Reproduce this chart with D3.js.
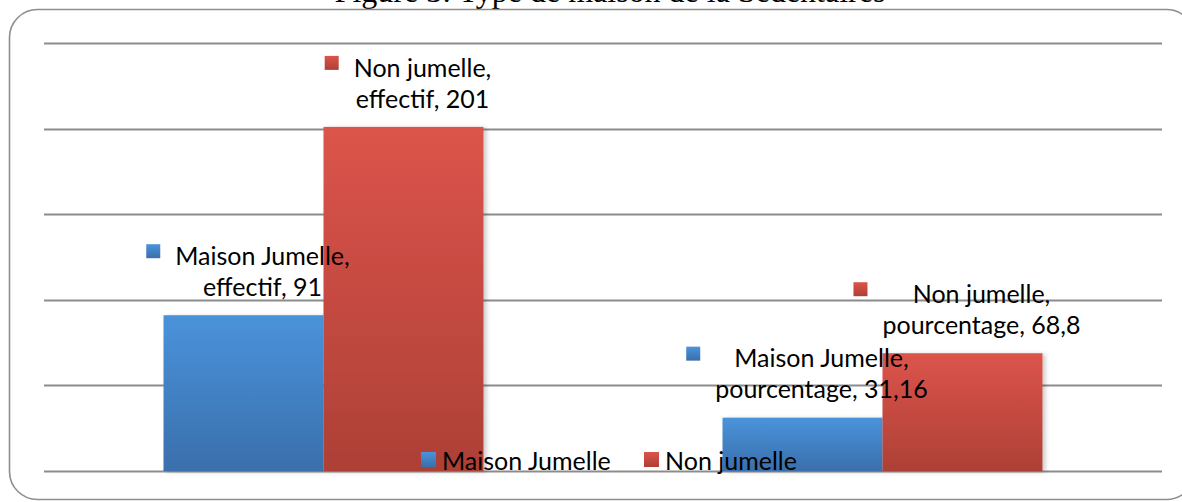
<!DOCTYPE html>
<html>
<head>
<meta charset="utf-8">
<script src="https://cdn.jsdelivr.net/npm/d3@7"></script>
<style>
  body { margin: 0; background: #fff; }
  svg { display: block; }
</style>
</head>
<body>
<div id="chart"></div>
<script>
// data
var categories = ["effectif", "pourcentage"];
var series = ["Maison Jumelle", "Non jumelle"];
var seriesLabel = ["Maison Jumelle", "Non jumelle"];
var maisonJumelle = [91, 31.16];
var nonJumelle = [201, 68.8];
var valueText = [["91", "31,16"], ["201", "68,8"]];
var yTicks = [0, 50, 100, 150, 200, 250];
var title = "Figure 3: Type de maison de la Sédentaires";

var width = 1182, height = 502;
var margin = {top: 43, right: 20, bottom: 31, left: 44};
var plotRight = 1162;
var baseY = 471;

var colors = [
  {top: "#4a93db", bottom: "#3a6fab"},
  {top: "#dc544b", bottom: "#ad4036"}
];

var svg = d3.select("#chart").append("svg")
    .attr("width", width)
    .attr("height", height);

var defs = svg.append("defs");
colors.forEach(function(c, i) {
  var g = defs.append("linearGradient")
      .attr("id", "grad" + i)
      .attr("x1", 0).attr("y1", 0).attr("x2", 0).attr("y2", 1);
  g.append("stop").attr("offset", "0%").attr("stop-color", c.top);
  g.append("stop").attr("offset", "100%").attr("stop-color", c.bottom);
});
var shadow = defs.append("filter").attr("id", "shadow")
    .attr("x", "-10%").attr("y", "-10%").attr("width", "130%").attr("height", "120%");
shadow.append("feDropShadow")
    .attr("dx", 3).attr("dy", 1).attr("stdDeviation", 2)
    .attr("flood-color", "#000").attr("flood-opacity", 0.2);

// title, mostly cut off by the top of the picture (as in the reference)
svg.append("text")
    .attr("x", 610)
    .attr("y", 2)
    .attr("text-anchor", "middle")
    .style("font", "32px 'Liberation Serif', 'Times New Roman', serif")
    .style("fill", "#000")
    .text(title);

// rounded frame
svg.append("rect")
    .attr("x", 9.5).attr("y", 9.5)
    .attr("width", 1185).attr("height", 490)
    .attr("rx", 28).attr("ry", 28)
    .attr("fill", "none")
    .attr("stroke", "#8e8e8e")
    .attr("stroke-width", 1.6);

var y = d3.scaleLinear().domain([0, 250]).range([baseY, margin.top]);

var x0 = d3.scaleBand().domain(categories).range([margin.left, plotRight]).padding(0);
var x1 = d3.scaleBand().domain(series).range([0, x0.bandwidth()])
    .paddingInner(0).paddingOuter(0.747);

// gridlines
svg.append("g").selectAll("line")
    .data(yTicks)
    .join("line")
    .attr("x1", margin.left)
    .attr("x2", plotRight)
    .attr("y1", function(d) { return Math.round(y(d)) + 0.5; })
    .attr("y2", function(d) { return Math.round(y(d)) + 0.5; })
    .attr("stroke", "#8c8c8c")
    .attr("stroke-width", 2);

var values = [maisonJumelle, nonJumelle];
var bars = [];
categories.forEach(function(c, ci) {
  series.forEach(function(s, si) {
    bars.push({cat: c, ci: ci, si: si, v: values[si][ci]});
  });
});

svg.append("g").selectAll("rect")
    .data(bars)
    .join("rect")
    .attr("x", function(d) { return x0(d.cat) + x1(series[d.si]); })
    .attr("y", function(d) { return y(d.v); })
    .attr("width", x1.bandwidth())
    .attr("height", function(d) { return y(0) - y(d.v); })
    .attr("fill", function(d) { return "url(#grad" + d.si + ")"; })
    .attr("filter", "url(#shadow)");

// data labels with series key
var labelFont = "25px Lato, 'Open Sans', sans-serif";
var labels = svg.append("g").selectAll("g")
    .data(bars)
    .join("g");

labels.each(function(d) {
  var g = d3.select(this);
  var cx = x0(d.cat) + x1(series[d.si]) + x1.bandwidth() / 2 + 19;
  var l2y = y(d.v) - 28;
  var l1y = l2y - 31;
  var lines = [series[d.si] === "Maison Jumelle" ? "Maison Jumelle," : "Non jumelle,",
               d.cat + ", " + valueText[d.si][d.ci]];
  var maxW = 0;
  lines.forEach(function(t, i) {
    var txt = g.append("text")
        .attr("x", cx)
        .attr("y", i === 0 ? l1y : l2y)
        .attr("dy", "0.35em")
        .attr("text-anchor", "middle")
        .style("font", labelFont)
        .style("fill", "#000")
        .text(t);
    maxW = Math.max(maxW, txt.node().getComputedTextLength());
  });
  g.insert("rect", "text")
      .attr("x", cx - maxW / 2 - 29)
      .attr("y", l1y - 12)
      .attr("width", 14)
      .attr("height", 14)
      .attr("fill", "url(#grad" + d.si + ")");
});

// legend
var legendX = [421, 644];
var legend = svg.append("g").selectAll("g")
    .data(seriesLabel)
    .join("g")
    .attr("transform", function(d, i) { return "translate(" + legendX[i] + ",452)"; });
legend.append("rect")
    .attr("width", 15).attr("height", 15)
    .attr("fill", function(d, i) { return "url(#grad" + i + ")"; });
legend.append("text")
    .attr("x", 21)
    .attr("y", 18)
    .style("font", labelFont)
    .style("fill", "#000")
    .text(function(d) { return d; });
</script>
</body>
</html>
